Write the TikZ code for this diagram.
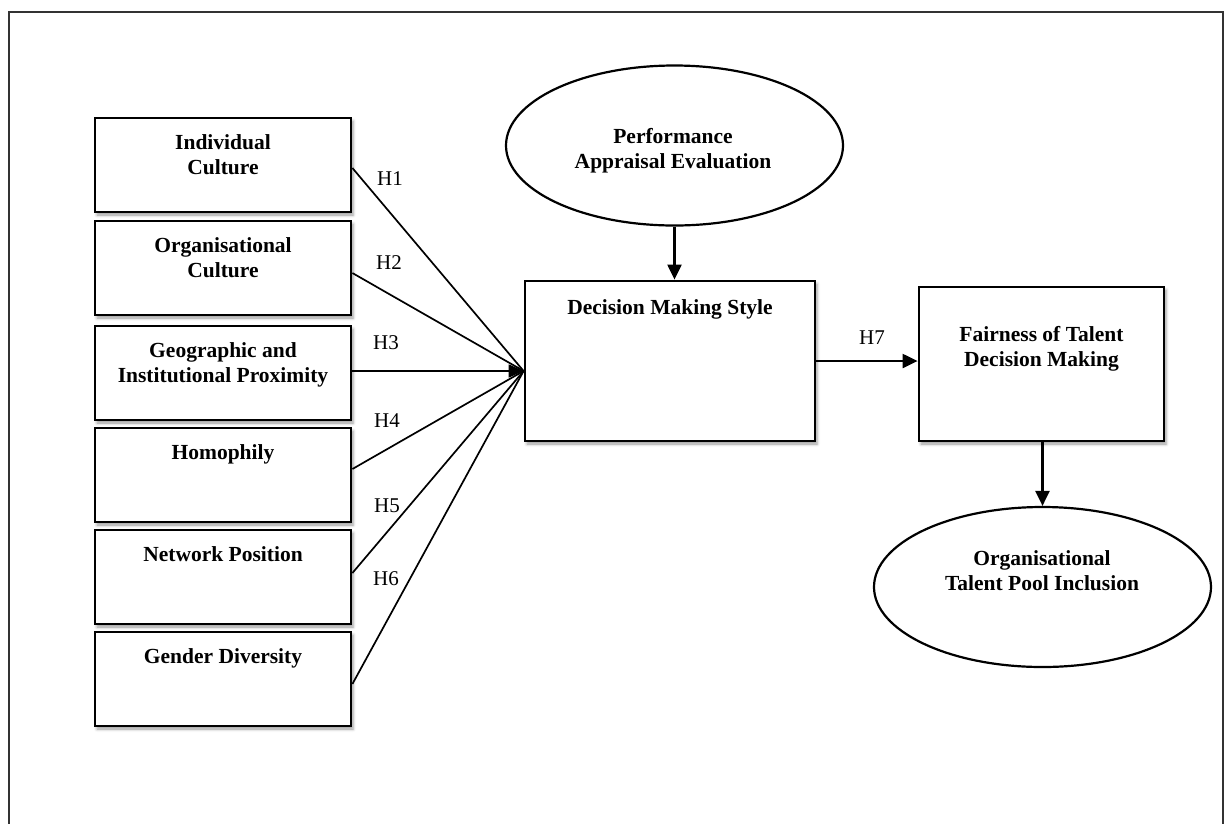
\documentclass[tikz,border=0pt]{standalone}
\usepackage{fontspec}
\setmainfont{Liberation Serif}
\usetikzlibrary{arrows.meta,shapes.geometric,shadows.blur}

\begin{document}
\begin{tikzpicture}[x=1pt,y=-1pt,
  box/.style={draw=black, line width=2.8pt, fill=white, inner sep=0pt,
    blur shadow={shadow xshift=2pt, shadow yshift=-3pt, shadow blur radius=3pt, shadow opacity=40}},
  oval/.style={ellipse, draw=black, line width=2.2pt, fill=white, inner sep=0pt,
    minimum width=337pt, minimum height=160pt},
  title/.style={font=\bfseries\fontsize{21.5}{25}\selectfont, align=center, inner sep=0pt, anchor=north},
  hyp/.style={font=\fontsize{21}{24}\selectfont, inner sep=0pt},
  link/.style={line width=1.7pt},
  arrow/.style={line width=2.2pt, -{Triangle[length=15pt,width=14pt]}},
]
\clip (0,0) rectangle (1227,823);
\useasboundingbox (0,0) rectangle (1227,823);

% outer frame, open at the bottom
\draw[black!80, line width=2pt] (9,840) -- (9,12) -- (1223,12) -- (1223,840);

% antecedent boxes
\foreach \n/\y in {b1/165, b2/268, b3/373, b4/475, b5/577, b6/679}
  \node[box, minimum width=256pt, minimum height=94pt] (\n) at (223,\y) {};
\node[title] (t1) at ([yshift=-18pt]b1.north) {Individual\\Culture};
\node[title] (t2) at ([yshift=-18pt]b2.north) {Organisational\\Culture};
\node[title] (t3) at ([yshift=-18pt]b3.north) {Geographic and\\Institutional Proximity};
\node[title] (t4) at ([yshift=-18pt]b4.north) {Homophily};
\node[title] (t5) at ([yshift=-18pt]b5.north) {Network Position};
\node[title] (t6) at ([yshift=-18pt]b6.north) {Gender Diversity};

% central and outcome boxes
\node[box, minimum width=290pt, minimum height=160pt] (dm) at (670,361) {};
\node[title] (tdm) at ([yshift=-20pt]dm.north) {Decision Making Style};
\node[box, minimum width=245pt, minimum height=154pt] (fair) at (1041.5,364) {};
\node[title] (tfair) at ([yshift=-41pt]fair.north) {Fairness of Talent\\Decision Making};

% ellipses
\node[oval] (pae) at (674.5,145.5) {};
\node[title] (tpae) at (673,128) {Performance\\Appraisal Evaluation};
\node[oval] (otp) at (1042.5,587) {};
\node[title] (totp) at (1042,550) {Organisational\\Talent Pool Inclusion};

% hypothesis paths
\coordinate (hub) at ([yshift=-10pt]dm.west);
\draw[link] ([yshift=-3pt]b1.east) -- (hub);
\draw[link] ([yshift=-5pt]b2.east) -- (hub);
\draw[link, -{Triangle[length=15pt,width=13pt]}] ([yshift=2pt]b3.east) -- (hub);
\draw[link] ([yshift=6pt]b4.east) -- (hub);
\draw[link] ([yshift=4pt]b5.east) -- (hub);
\draw[link] ([yshift=-5pt]b6.east) -- (hub);

\node[hyp] (h1) at (390,179) {H1};
\node[hyp] (h2) at (389,263) {H2};
\node[hyp] (h3) at (386,343) {H3};
\node[hyp] (h4) at (387,421) {H4};
\node[hyp] (h5) at (387,506) {H5};
\node[hyp] (h6) at (386,579) {H6};

\draw[arrow] (pae.south) -- (pae.south |- dm.north);
\draw[arrow] (dm.east) -- (dm.east -| fair.west);
\node[hyp] (h7) at (872,338) {H7};
\draw[arrow] (fair.south -| otp.north) -- (otp.north);
\end{tikzpicture}
\end{document}
